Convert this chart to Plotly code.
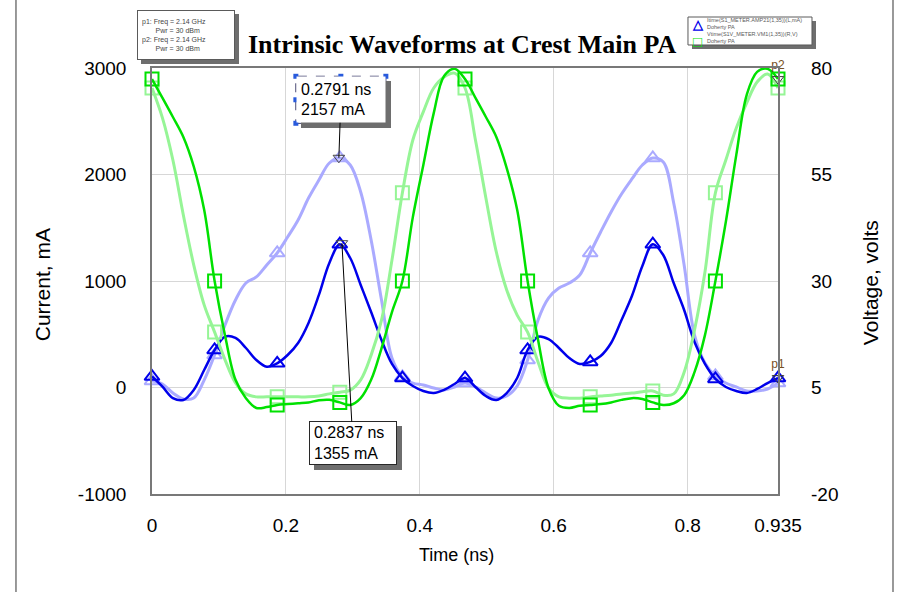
import plotly.graph_objects as go

# Time axis (ns), two RF cycles at 2.14 GHz
time_ns = [0.0, 0.0156, 0.0312, 0.0468, 0.0623, 0.0779, 0.0935, 0.1091, 0.1247, 0.1403,
           0.1558, 0.1714, 0.187, 0.2026, 0.2182, 0.2338, 0.2493, 0.2649, 0.2805, 0.2961,
           0.3117, 0.3273, 0.3428, 0.3584, 0.374, 0.3896, 0.4052, 0.4208, 0.4363, 0.4519,
           0.4675, 0.4831, 0.4987, 0.5143, 0.5298, 0.5454, 0.561, 0.5766, 0.5922, 0.6078,
           0.6233, 0.6389, 0.6545, 0.6701, 0.6857, 0.7013, 0.7168, 0.7324, 0.748, 0.7636,
           0.7792, 0.7948, 0.8103, 0.8259, 0.8415, 0.8571, 0.8727, 0.8883, 0.9038, 0.9194,
           0.935]

# Intrinsic drain current, mA (left axis)
current_main = [103, 8, -99, -117, -23, 164, 352, 477, 465, 371,
                258, 195, 227, 305, 418, 606, 869, 1169, 1345, 1216,
                963, 709, 446, 221, 89, 14, -33, -52, -23, 33,
                89, 5, -80, -117, -52, 89, 352, 477, 455, 371,
                277, 221, 240, 296, 418, 634, 859, 1141, 1345, 1244,
                981, 728, 427, 221, 80, 5, -33, -52, -14, 42,
                89]
current_ref = [61, 33, -52, -108, -99, 70, 305, 587, 822, 981,
               1038, 1150, 1263, 1413, 1573, 1779, 1948, 2108, 2155, 2089,
               1836, 1385, 822, 277, 99, 42, 23, -5, -23, 5,
               42, 5, -52, -99, -80, 14, 258, 634, 840, 934,
               981, 1056, 1263, 1460, 1648, 1817, 1958, 2089, 2155, 2117,
               1733, 1150, 493, 230, 108, 42, 5, -33, -33, -14,
               42]

# Intrinsic drain voltage, V (right axis)
voltage_main = [77.4, 73.0, 68.5, 63.8, 56.9, 46.7, 30.0, 17.2, 6.8, 2.5,
                0.2, 0.4, 0.9, 1.1, 1.3, 1.5, 2.0, 2.1, 1.5, 0.9,
                2.5, 6.8, 14.2, 22.7, 30.0, 45.0, 57.2, 69.4, 78.1, 79.8,
                77.4, 73.0, 68.5, 63.8, 56.5, 46.7, 30.0, 16.2, 4.9, 0.7,
                0.2, 0.7, 0.9, 1.1, 1.5, 2.1, 2.5, 2.3, 1.5, 0.9,
                1.3, 3.2, 8.6, 17.3, 30.0, 43.9, 59.6, 73.7, 79.1, 79.8,
                77.4]
voltage_ref = [75.3, 68.3, 58.4, 45.5, 33.8, 24.4, 18.0, 11.5, 6.1, 3.5,
               2.8, 2.8, 2.8, 2.8, 2.8, 2.8, 3.0, 3.5, 3.9, 4.4,
               6.8, 12.6, 20.8, 34.9, 50.7, 63.1, 69.7, 75.3, 77.9, 78.8,
               75.3, 63.1, 49.5, 36.8, 27.9, 22.0, 18.0, 11.0, 4.9, 2.8,
               2.5, 2.5, 2.8, 3.0, 3.2, 3.5, 3.7, 4.0, 4.2, 3.2,
               3.5, 8.6, 18.5, 32.1, 50.7, 58.4, 65.9, 71.8, 76.7, 78.6,
               75.3]

# Peak read-outs on the current traces
peak_time_ns = [0.2791, 0.2837]
peak_current_ma = [2157, 1355]

x_ticks = [0, 0.2, 0.4, 0.6, 0.8, 0.935]
x_tick_text = ["0", "0.2", "0.4", "0.6", "0.8", "0.935"]
y_ticks = [-1000, 0, 1000, 2000, 3000]
y_tick_text = ["-1000", "0", "1000", "2000", "3000"]
y2_ticks = [-20, 5, 30, 55, 80]
y2_tick_text = ["-20", "5", "30", "55", "80"]

MARK_STEP = 6

DARK_BLUE = "rgb(0,0,235)"
LIGHT_BLUE = "rgb(170,170,255)"
GREEN = "rgb(0,225,0)"
LIGHT_GREEN = "rgb(150,245,150)"
SHADOW = "rgb(110,110,110)"
FONT = "Liberation Sans"

fig = go.Figure()


def add_wave(y, color, symbol, width, yaxis):
    fig.add_trace(go.Scatter(
        x=time_ns, y=y, mode="lines", yaxis=yaxis,
        line=dict(color=color, width=width, shape="spline", smoothing=1.0),
        hoverinfo="skip", showlegend=False))
    fig.add_trace(go.Scatter(
        x=time_ns[::MARK_STEP], y=y[::MARK_STEP], mode="markers", yaxis=yaxis,
        cliponaxis=False,
        marker=dict(symbol=symbol, size=13, color=color, line=dict(color=color, width=2)),
        hoverinfo="skip", showlegend=False))


add_wave(current_ref, LIGHT_BLUE, "triangle-up-open", 3, "y")
add_wave(voltage_ref, LIGHT_GREEN, "square-open", 3, "y2")
add_wave(current_main, DARK_BLUE, "triangle-up-open", 2.5, "y")
add_wave(voltage_main, GREEN, "square-open", 2.5, "y2")

# Read-out markers at the peaks
fig.add_trace(go.Scatter(
    x=peak_time_ns, y=peak_current_ma, mode="markers",
    marker=dict(symbol="triangle-down-open", size=10, color="rgb(70,70,70)",
                line=dict(width=1)),
    hoverinfo="skip", showlegend=False))

# p1 / p2 end-point markers
for label, yval, yaxis in (("p1", current_main[-1], "y"), ("p2", voltage_main[-1], "y2")):
    fig.add_trace(go.Scatter(
        x=[time_ns[-1]], y=[yval], mode="markers+text", text=[label], yaxis=yaxis,
        cliponaxis=False, textposition="top center",
        textfont=dict(size=12, color="rgb(120,80,30)", family=FONT),
        marker=dict(symbol="triangle-down-open", size=10, color="rgb(60,60,60)",
                    line=dict(width=1)),
        hoverinfo="skip", showlegend=False))

annotations = []
shapes = []

# Read-out boxes: (index, ax, ay, box width, box height, selected)
boxes = [(0, 2, -58, 90, 47, True), (1, 11, 200, 88, 44, False)]
for i, ax, ay, bw, bh, selected in boxes:
    label = f"{peak_time_ns[i]} ns<br>{peak_current_ma[i]} mA"
    common = dict(x=peak_time_ns[i], y=peak_current_ma[i], xref="x", yref="y",
                  ax=ax, ay=ay, showarrow=True, arrowhead=0, arrowwidth=1,
                  width=bw - 10, height=bh - 10, borderpad=4, borderwidth=1,
                  align="left")
    shadow = dict(common)
    shadow.update(text="&nbsp;", bgcolor=SHADOW, bordercolor=SHADOW,
                  font=dict(family=FONT, size=16, color="rgba(0,0,0,0)"),
                  arrowcolor="rgba(0,0,0,0)", xshift=5, yshift=-5)
    annotations.append(shadow)
    main = dict(common)
    main.update(text=label, bgcolor="white",
                bordercolor="rgba(0,0,0,0)" if selected else "rgb(40,40,40)",
                font=dict(family=FONT, size=16, color="black"),
                arrowcolor="black")
    annotations.append(main)
    if selected:
        x0, x1 = ax - bw / 2, ax + bw / 2
        y0, y1 = -ay - bh / 2, -ay + bh / 2
        shapes.append(dict(type="rect", xref="x", yref="y", xsizemode="pixel", ysizemode="pixel",
                           xanchor=peak_time_ns[i], yanchor=peak_current_ma[i],
                           x0=x0, x1=x1, y0=y0, y1=y1,
                           line=dict(color="rgb(40,40,90)", width=1, dash="dash")))
        for hx in (x0, ax, x1):
            for hy in (y0, -ay, y1):
                if hx == ax and hy == -ay:
                    continue
                shapes.append(dict(type="rect", xref="x", yref="y", xsizemode="pixel",
                                   ysizemode="pixel", xanchor=peak_time_ns[i],
                                   yanchor=peak_current_ma[i],
                                   x0=hx - 2.5, x1=hx + 2.5, y0=hy - 2.5, y1=hy + 2.5,
                                   fillcolor="rgb(40,90,220)", line=dict(width=0)))

# Chart title and axis titles
annotations += [
    dict(text="<b>Intrinsic Waveforms at Crest Main PA</b>", xref="paper", yref="paper",
         x=0.495, y=1.054, xanchor="center", yanchor="middle", showarrow=False,
         font=dict(family="Liberation Serif", size=26, color="black")),
    dict(text="Current, mA", xref="paper", yref="paper", x=-0.1757, y=0.49,
         xanchor="center", yanchor="middle", showarrow=False, textangle=-90,
         font=dict(family=FONT, size=21)),
    dict(text="Voltage, volts", xref="paper", yref="paper", x=1.147, y=0.495,
         xanchor="center", yanchor="middle", showarrow=False, textangle=-90,
         font=dict(family=FONT, size=21)),
    dict(text="Time (ns)", xref="paper", yref="paper", x=0.486, y=-0.143,
         xanchor="center", yanchor="middle", showarrow=False,
         font=dict(family=FONT, size=18)),
]

# Info box (top left)
info_text = ("p1:&nbsp;Freq&nbsp;=&nbsp;2.14&nbsp;GHz<br>"
             "&nbsp;&nbsp;&nbsp;&nbsp;&nbsp;&nbsp;&nbsp;Pwr&nbsp;=&nbsp;30&nbsp;dBm<br>"
             "p2:&nbsp;Freq&nbsp;=&nbsp;2.14&nbsp;GHz<br>"
             "&nbsp;&nbsp;&nbsp;&nbsp;&nbsp;&nbsp;&nbsp;Pwr&nbsp;=&nbsp;30&nbsp;dBm")
for shift, bg, fc, bc, txt in ((4, SHADOW, "rgba(0,0,0,0)", SHADOW, "&nbsp;"),
                               (0, "white", "rgb(70,70,70)", "rgb(90,90,90)", info_text)):
    annotations.append(dict(text=txt, xref="paper", yref="paper",
                            x=-0.0240, y=1.136, xanchor="left", yanchor="top",
                            showarrow=False, align="left", width=88, height=40,
                            borderpad=4, borderwidth=1, bgcolor=bg, bordercolor=bc,
                            xshift=shift, yshift=-shift,
                            font=dict(family=FONT, size=7, color=fc)))

# Trace key (top right)
shapes.append(dict(type="rect", xref="paper", yref="paper",
                   x0=0.8626, x1=1.0607, y0=1.0446, y1=1.1103,
                   fillcolor=SHADOW, line=dict(width=0)))
shapes.append(dict(type="rect", xref="paper", yref="paper",
                   x0=0.8562, x1=1.0543, y0=1.054, y1=1.1197,
                   fillcolor="white", line=dict(color="rgb(90,90,90)", width=1)))
key_text = ("Itime(S1_METER.AMP21(1,35))(L,mA)<br>Doherty PA<br>"
            "Vtime(S1V_METER.VM1(1,35))(R,V)<br>Doherty PA")
annotations.append(dict(text=key_text, xref="paper", yref="paper",
                        x=0.8834, y=1.087, xanchor="left", yanchor="middle",
                        showarrow=False, align="left",
                        font=dict(family=FONT, size=5.5, color="rgb(90,90,90)")))
annotations.append(dict(text="<b>△</b>", xref="paper", yref="paper", x=0.872, y=1.102,
                        xanchor="center", yanchor="middle",
                        showarrow=False, font=dict(size=13, color=DARK_BLUE)))
annotations.append(dict(text="<b>□</b>", xref="paper", yref="paper", x=0.871, y=1.063,
                        xanchor="center", yanchor="middle",
                        showarrow=False, font=dict(size=15, color=GREEN)))

# Outer frame
for xf in (-0.2173, 1.1837):
    shapes.append(dict(type="line", xref="paper", yref="paper", x0=xf, x1=xf,
                       y0=-0.24, y1=1.17, line=dict(color="rgb(120,120,120)", width=1.5)))

fig.update_layout(
    width=897, height=592,
    margin=dict(l=152, r=119, t=68, b=98),
    paper_bgcolor="white", plot_bgcolor="white",
    showlegend=False,
    font=dict(family=FONT, size=16, color="black"),
    xaxis=dict(range=[0, 0.935], tickvals=x_ticks, ticktext=x_tick_text,
               showgrid=True, gridcolor="rgb(215,215,215)", gridwidth=1,
               zeroline=False, showline=True, linecolor="rgb(120,120,120)", linewidth=1.5,
               mirror=True, ticks="", ticklabelstandoff=13,
               tickfont=dict(size=19)),
    yaxis=dict(range=[-1000, 3000], tickvals=y_ticks, ticktext=y_tick_text,
               showgrid=True, gridcolor="rgb(215,215,215)", gridwidth=1,
               zeroline=False, showline=True, linecolor="rgb(120,120,120)", linewidth=1.5,
               mirror=True, ticks="", ticklabelstandoff=20, tickfont=dict(size=19)),
    yaxis2=dict(range=[-20, 80], tickvals=y2_ticks, ticktext=y2_tick_text,
                overlaying="y", side="right",
                showgrid=False, zeroline=False, showline=False, ticks="",
                ticklabelstandoff=32, tickfont=dict(size=19)),
    annotations=annotations,
    shapes=shapes,
)

fig.write_html("out.html")
